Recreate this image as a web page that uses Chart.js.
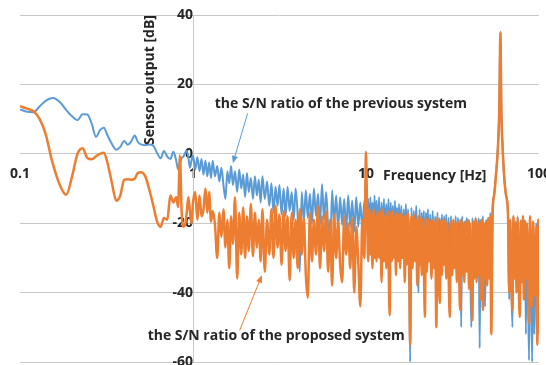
<!DOCTYPE html>
<html>
<head>
<meta charset="utf-8">
<script src="https://cdn.jsdelivr.net/npm/chart.js@4.4.1/dist/chart.umd.min.js"></script>
<style>
  html, body { margin: 0; padding: 0; background: #fff; }
</style>
</head>
<body>
<canvas id="c" width="546" height="365"></canvas>
<script>
// frequency axis [Hz], shared by both traces
const freqHz = [
  // 0.1 - 1 Hz
  0.10, 0.11, 0.12, 0.13, 0.14, 0.155, 0.17, 0.185, 0.20, 0.215,
  0.23, 0.245, 0.26, 0.275, 0.29, 0.305, 0.32, 0.34, 0.36, 0.38,
  0.40, 0.42, 0.44, 0.46, 0.48, 0.50, 0.53, 0.56, 0.59, 0.62,
  0.65, 0.68, 0.71, 0.74, 0.77, 0.80, 0.82, 0.84, 0.86, 0.88,
  0.90, 0.92, 0.94, 0.96, 0.98, 1.00,
  // 1 - 10 Hz
  1.03, 1.06, 1.09, 1.12, 1.15, 1.18, 1.21, 1.24, 1.27, 1.30,
  1.34, 1.38, 1.42, 1.46, 1.50, 1.54, 1.58, 1.62, 1.66, 1.70,
  1.75, 1.80, 1.85, 1.90, 1.95, 2.00, 2.05, 2.10, 2.16, 2.22,
  2.28, 2.34, 2.40, 2.46, 2.52, 2.60, 2.68, 2.76, 2.84, 2.92,
  3.00, 3.08, 3.16, 3.25, 3.34, 3.43, 3.52, 3.62, 3.72, 3.82,
  3.92, 4.03, 4.14, 4.25, 4.37, 4.49, 4.61, 4.74, 4.87, 5.00,
  5.14, 5.28, 5.42, 5.57, 5.72, 5.88, 6.04, 6.20, 6.37, 6.54,
  6.72, 6.90, 7.09, 7.28, 7.48, 7.68, 7.89, 8.10, 8.32, 8.55,
  8.78, 9.02, 9.27, 9.52, 9.78, 10.0,
  // 10 - 53 Hz
  10.15, 10.3, 10.45, 10.6, 10.75, 10.9, 11.05, 11.2, 11.35, 11.5,
  11.7, 11.9, 12.1, 12.3, 12.5, 12.7, 12.9, 13.1, 13.3, 13.5,
  13.7, 13.9, 14.1, 14.3, 14.5, 14.7, 14.9, 15.1, 15.3, 15.5,
  15.75, 16.0, 16.25, 16.5, 16.75, 17.0, 17.25, 17.5, 17.75, 18.0,
  18.3, 18.6, 18.9, 19.2, 19.5, 19.8, 20.1, 20.4, 20.7, 21.0,
  21.3, 21.6, 21.9, 22.2, 22.5, 22.8, 23.1, 23.5, 23.9, 24.3,
  24.7, 25.1, 25.5, 25.9, 26.3, 26.7, 27.1, 27.5, 27.9, 28.3,
  28.7, 29.1, 29.5, 30.0, 30.5, 31.0, 31.5, 32.0, 32.5, 33.0,
  33.5, 34.0, 34.5, 35.0, 35.5, 36.0, 36.5, 37.0, 37.6, 38.2,
  38.8, 39.4, 40.0, 40.6, 41.2, 41.8, 42.4, 43.0, 43.6, 44.2,
  44.8, 45.4, 46.0, 46.7, 47.4, 48.1, 48.8, 49.5, 50.2, 50.9,
  51.6, 52.3, 53.0,
  // resonance near 60 Hz
  54.0, 55.0, 56.4, 57.9, 59.0, 59.8, 60.6, 61.6, 62.8, 64.5, 66.2,
  // 67 - 100 Hz
  67.2, 68.2, 69.2, 70.2, 71.2, 72.2, 73.2, 74.2, 75.2, 76.3,
  77.4, 78.5, 79.6, 80.7, 81.8, 82.9, 84.0, 85.2, 86.4, 87.6,
  88.8, 90.0, 91.3, 92.6, 93.9, 95.2, 96.5, 97.8, 99.1, 100
];

// S/N of the previous system [dB]
const prevDb = [
  12.8, 12.1, 12.0, 13.7, 15.2, 16.1, 14.9, 12.6, 10.8, 9.7,
  11.4, 11.3, 8.6, 4.9, 6.8, 7.5, 5.4, 2.8, 1.2, 2.0,
  3.7, 2.6, 3.6, 5.3, 3.4, 2.7, 2.5, 2.7, 2.3, 0.2,
  -1.3, 0.8, -0.8, -1.5, 0.6, -2.0, -4.5, -3.0, -1.2, -0.8,
  0.3, 0.9, -1.0, -4.0, -2.0, -0.5,

  -4.5, -1.0, -5.0, -1.5, -6.0, -2.0, -6.5, -2.5, -7.0, -2.0,
  -6.5, -3.5, -8.0, -4.0, -9.0, -13.0, -5.0, -8.5, -3.5, -9.0,
  -5.0, -11.0, -4.5, -10.0, -6.0, -12.5, -5.5, -11.0, -7.0, -13.0,
  -6.5, -12.0, -7.5, -14.0, -6.5, -13.0, -8.0, -15.0, -8.5, -17.0,
  -9.5, -15.0, -9.0, -17.5, -10.0, -18.0, -9.5, -16.5, -11.0, -19.0,
  -10.0, -18.0, -34.0, -11.0, -19.5, -10.5, -18.5, -11.5, -20.0, -10.0,
  -18.0, -11.5, -20.5, -8.8, -19.0, -11.0, -21.0, -30.0, -10.5, -20.0,
  -12.0, -21.5, -12.5, -20.5, -13.0, -22.0, -12.0, -21.0, -13.5, -22.5,
  -12.5, -21.0, -14.0, -22.0, -13.5, -14.0,

  -18, -13, -24, -12.5, -22, -14, -25, -12, -23, -13.5,
  -22, -12.5, -26, -14, -23, -13, -25, -14.5, -22, -13,
  -28, -14, -24, -15, -26, -13.5, -25, -15.5, -27, -14.5,
  -24, -15, -28, -16, -25, -14.5, -27, -16, -29, -60,
  -15.5, -26, -16.5, -28, -15, -27, -40, -16, -29, -17,
  -26, -16.5, -30, -17, -27, -16, -29, -17.5, -28, -16.5,
  -30, -18, -28, -17, -31, -18.5, -29, -17.5, -30, -18,
  -28, -17.5, -31, -18.5, -29, -18, -32, -19, -30, -18,
  -31, -18.5, -29, -19, -50, -18, -32, -19.5, -30, -18.5,
  -31, -19, -29, -50, -18.5, -33, -19.5, -30, -19, -32,
  -18.5, -56, -19, -31, -18, -33, -44, -19, -30, -18.5,
  -32, -17, -40,

  -16, -12, -6, 2, 14, 35, 12, 2, -6, -12, -17,

  -42, -19, -36, -50, -18, -34, -19.5, -40, -18, -32,
  -44, -19, -35, -18, -40, -19, -52, -20, -38, -59.5,
  -19, -36, -60, -20, -52, -38, -20, -45, -19, -48
];

// S/N of the proposed system [dB]
const propDb = [
  13.7, 13.0, 12.2, 10.0, 6.0, -3.0, -9.0, -11.8, -6.5, 0.0,
  1.6, -1.2, -1.6, -0.7, 0.0, 0.3, -2.5, -8.5, -13.5, -12.0,
  -7.5, -7.3, -7.5, -7.2, -5.5, -5.3, -6.5, -10.5, -15.0, -19.5,
  -21.0, -18.5, -19.0, -12.0, -14.0, -12.5, -15.3, -0.5, -17.0, -21.0,
  -20.5, -17.0, -12.5, -16.5, -20.0, -14.0,

  -11.0, -19.0, -12.0, -18.0, -16.0, -10.0, -17.0, -11.0, -19.5, -16.5,
  -20.5, -30.0, -17.0, -24.0, -16.0, -27.0, -19.0, -33.0, -18.0, -26.0,
  -12.5, -36.0, -17.0, -29.0, -15.5, -30.0, -18.0, -28.0, -14.5, -29.5,
  -17.0, -27.0, -19.0, -31.0, -16.0, -34.0, -19.0, -29.0, -16.0, -30.0,
  -15.0, -27.0, -17.5, -32.0, -16.5, -28.0, -18.0, -36.5, -17.0, -30.0,
  -19.0, -33.0, -16.0, -29.0, -18.5, -35.0, -41.5, -17.0, -31.0, -19.0,
  -29.0, -15.0, -33.0, -18.0, -28.0, -16.5, -34.0, -19.0, -38.0, -17.5,
  -30.0, -19.5, -32.0, -37.0, -18.0, -29.0, -20.0, -33.0, -18.5, -40.0,
  -21.0, -31.0, -44.0, -19.0, -30.0, 0.5,

  -17, -31, -16, -29, -17.5, -33, -16, -30, -18, -31,
  -16.5, -30, -17, -37, -16, -31, -18, -33, -16.5, -30,
  -46.5, -17, -31, -16.5, -30, -18, -35, -17, -31, -17.5,
  -33, -17, -30, -18, -37, -17.5, -32, -17, -30, -55,
  -18, -33, -17.5, -31, -19, -38, -18, -32, -18.5, -35,
  -19, -32, -47, -18.5, -34, -19, -31, -19.5, -36, -19,
  -33, -19.5, -50, -18.5, -33, -43, -19.5, -35, -19, -32,
  -19, -36, -20, -34, -47, -19.5, -35, -19, -33, -20,
  -37, -19.5, -34, -45, -19, -35, -20, -37, -19.5, -34,
  -19, -39, -20, -35, -48, -19.5, -36, -18.5, -37, -20,
  -35, -19.5, -42, -19, -45, -20, -36, -19.5, -38, -18.5,
  -36, -18, -52,

  -16, -12, -6, 2, 14, 35, 12, 2, -6, -12, -17.5,

  -40, -19, -37, -45, -18, -36, -20, -40, -18.5, -36,
  -47, -19.5, -37, -18, -42, -19.5, -36, -20, -39, -49,
  -18, -37, -44, -19.5, -36, -41, -21, -55, -19, -52
];

const xTicks = [0.1, 1, 10, 100];
const xTickLabels = ['0.1', '1', '10', '100'];
const yTicks = [-60, -40, -20, 0, 20, 40];

const xTitle = 'Frequency [Hz]';
const yTitle = 'Sensor output [dB]';

// callouts: text anchor and arrow given in data units
const notes = [
  { text: 'the S/N ratio of the previous system', at: [1.335, 14.3], from: [2.07, 11.7], to: [1.70, -2.7], color: '#5b9bd5' },
  { text: 'the S/N ratio of the proposed system', at: [0.547, -52.6], from: [1.86, -50.9], to: [2.50, -35.0], color: '#ed7d31' }
];

const FONT = '"Open Sans", Lato, sans-serif';
const TEXT = '#262626';

const toPoints = vals => freqHz.map((f, i) => ({ x: f, y: vals[i] }));

const labelsPlugin = {
  id: 'labels',
  afterDraw(chart) {
    const { ctx, scales: { x, y } } = chart;
    ctx.save();
    ctx.fillStyle = TEXT;
    ctx.font = 'bold 14px ' + FONT;

    // y title, vertical, ends at the top of the plot
    ctx.save();
    ctx.translate(x.getPixelForValue(1) - 43, y.getPixelForValue(40));
    ctx.rotate(-Math.PI / 2);
    ctx.textAlign = 'right';
    ctx.textBaseline = 'middle';
    ctx.fillText(yTitle, 0, 0);
    ctx.restore();

    // x title, next to the 10 Hz label
    ctx.textAlign = 'left';
    ctx.textBaseline = 'middle';
    ctx.fillText(xTitle, x.getPixelForValue(10) + 17, y.getPixelForValue(0) + 22);

    notes.forEach(n => {
      ctx.fillStyle = TEXT;
      ctx.fillText(n.text, x.getPixelForValue(n.at[0]), y.getPixelForValue(n.at[1]));

      const x1 = x.getPixelForValue(n.from[0]), y1 = y.getPixelForValue(n.from[1]);
      const x2 = x.getPixelForValue(n.to[0]), y2 = y.getPixelForValue(n.to[1]);
      const a = Math.atan2(y2 - y1, x2 - x1);
      ctx.strokeStyle = n.color;
      ctx.fillStyle = n.color;
      ctx.lineWidth = 1;
      ctx.beginPath();
      ctx.moveTo(x1, y1);
      ctx.lineTo(x2 - 5 * Math.cos(a), y2 - 5 * Math.sin(a));
      ctx.stroke();
      ctx.beginPath();
      ctx.moveTo(x2, y2);
      ctx.lineTo(x2 - 8 * Math.cos(a - 0.4), y2 - 8 * Math.sin(a - 0.4));
      ctx.lineTo(x2 - 8 * Math.cos(a + 0.4), y2 - 8 * Math.sin(a + 0.4));
      ctx.closePath();
      ctx.fill();
    });
    ctx.restore();
  }
};

new Chart(document.getElementById('c'), {
  type: 'line',
  data: {
    datasets: [
      {
        label: 'previous system',
        data: toPoints(prevDb),
        borderColor: '#5b9bd5',
        borderWidth: 2,
        pointRadius: 0,
        cubicInterpolationMode: 'monotone',
        order: 2
      },
      {
        label: 'proposed system',
        data: toPoints(propDb),
        borderColor: '#ed7d31',
        borderWidth: 2.5,
        pointRadius: 0,
        cubicInterpolationMode: 'monotone',
        order: 1
      }
    ]
  },
  options: {
    responsive: false,
    animation: false,
    layout: { padding: { left: 20, top: 15, right: 7, bottom: 3 } },
    plugins: {
      legend: { display: false },
      tooltip: { enabled: false }
    },
    scales: {
      x: {
        type: 'logarithmic',
        min: 0.1,
        max: 100,
        position: { y: 0 },
        grid: { display: false, drawTicks: false },
        border: { display: false },
        afterBuildTicks: s => { s.ticks = xTicks.map(v => ({ value: v })); },
        afterFit: s => { s.paddingLeft = 0; s.paddingRight = 0; },
        ticks: {
          autoSkip: false,
          maxRotation: 0,
          padding: 12,
          color: TEXT,
          font: { family: FONT, size: 14, weight: 'bold' },
          callback: (v) => xTickLabels[xTicks.indexOf(v)] ?? ''
        }
      },
      y: {
        type: 'linear',
        min: -60,
        max: 40,
        position: { x: 1 },
        grid: { color: '#c8c8c8', lineWidth: 1, drawTicks: false },
        border: { display: true, color: '#c8c8c8', width: 1 },
        afterBuildTicks: s => { s.ticks = yTicks.map(v => ({ value: v })); },
        afterFit: s => { s.paddingTop = 0; s.paddingBottom = 0; },
        ticks: {
          padding: 12,
          color: TEXT,
          font: { family: FONT, size: 14, weight: 'bold' }
        }
      }
    }
  },
  plugins: [labelsPlugin]
});
</script>
</body>
</html>
